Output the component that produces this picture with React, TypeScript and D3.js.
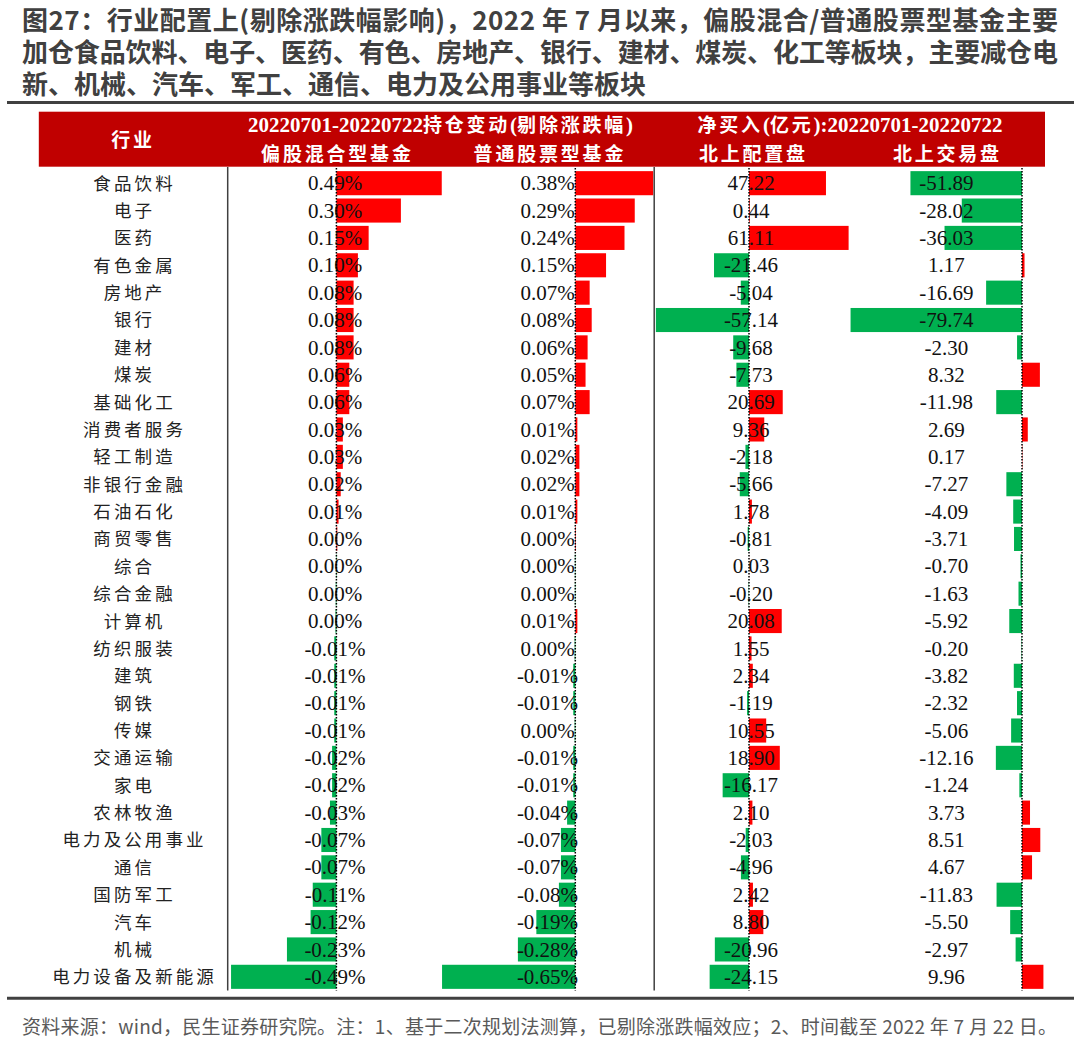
import React from 'react';
import * as d3 from 'd3';

const industries = [
  '食品饮料', '电子', '医药', '有色金属', '房地产', '银行', '建材', '煤炭', '基础化工', '消费者服务',
  '轻工制造', '非银行金融', '石油石化', '商贸零售', '综合', '综合金融', '计算机', '纺织服装', '建筑', '钢铁',
  '传媒', '交通运输', '家电', '农林牧渔', '电力及公用事业', '通信', '国防军工', '汽车', '机械', '电力设备及新能源',
];

// 偏股混合型基金 (%)
const mixedFund = [
  0.49, 0.30, 0.15, 0.10, 0.08, 0.08, 0.08, 0.06, 0.06, 0.03,
  0.03, 0.02, 0.01, 0.004, -0.002, -0.003, -0.004, -0.01, -0.01, -0.01,
  -0.01, -0.02, -0.02, -0.03, -0.07, -0.07, -0.11, -0.12, -0.23, -0.49,
];

// 普通股票型基金 (%)
const stockFund = [
  0.38, 0.29, 0.24, 0.15, 0.07, 0.08, 0.06, 0.05, 0.07, 0.01,
  0.02, 0.02, 0.01, 0.003, -0.002, -0.002, 0.01, -0.003, -0.01, -0.01,
  -0.003, -0.01, -0.01, -0.04, -0.07, -0.07, -0.08, -0.19, -0.28, -0.65,
];

// 北上配置盘 (亿元)
const northAlloc = [
  47.22, 0.44, 61.11, -21.46, -5.04, -57.14, -9.68, -7.73, 20.69, 9.36,
  -2.18, -5.66, 1.78, -0.81, 0.03, -0.20, 20.08, 1.55, 2.34, -1.19,
  10.55, 18.90, -16.17, 2.10, -2.03, -4.96, 2.42, 8.80, -20.96, -24.15,
];

// 北上交易盘 (亿元)
const northTrade = [
  -51.89, -28.02, -36.03, 1.17, -16.69, -79.74, -2.30, 8.32, -11.98, 2.69,
  0.17, -7.27, -4.09, -3.71, -0.70, -1.63, -5.92, -0.20, -3.82, -2.32,
  -5.06, -12.16, -1.24, 3.73, 8.51, 4.67, -11.83, -5.50, -2.97, 9.96,
];

const titleLines = [
  '图27：行业配置上(剔除涨跌幅影响)，2022 年 7 月以来，偏股混合/普通股票型基金主要',
  '加仓食品饮料、电子、医药、有色、房地产、银行、建材、煤炭、化工等板块，主要减仓电',
  '新、机械、汽车、军工、通信、电力及公用事业等板块',
];

const footerText = '资料来源：wind，民生证券研究院。注：1、基于二次规划法测算，已剔除涨跌幅效应；2、时间截至 2022 年 7 月 22 日。';

const subHeaders = ['偏股混合型基金', '普通股票型基金', '北上配置盘', '北上交易盘'];

const RED = '#FF0000';
const GREEN = '#00B050';
const HEADER_RED = '#C00000';
const SERIF = '"Liberation Serif", "Times New Roman", serif';
const CJK = '"Noto Sans CJK SC", sans-serif';

const fmtPct = (v: number) => (Math.abs(v) < 0.005 ? 0 : v).toFixed(2) + '%';
const fmtNum = (v: number) => v.toFixed(2);

export default function App() {
  const W = 1080;
  const H = 1055;

  const y = d3
    .scaleBand<string>()
    .domain(industries)
    .range([169.5, 990.5])
    .paddingInner(0.12)
    .paddingOuter(0.06);

  const cols = [
    { values: mixedFund, x: d3.scaleLinear().domain([-0.5, 0.5]).range([336.4 - 107.5, 336.4 + 107.5]), tx: 335, fmt: fmtPct, sub: 336 },
    { values: stockFund, x: d3.scaleLinear().domain([-0.5, 0.5]).range([575.3 - 102.5, 575.3 + 102.5]), tx: 547.5, fmt: fmtPct, sub: 548.5 },
    { values: northAlloc, x: d3.scaleLinear().domain([-50, 50]).range([749 - 81.5, 749 + 81.5]), tx: 751, fmt: fmtNum, sub: 752 },
    { values: northTrade, x: d3.scaleLinear().domain([-50, 50]).range([1022 - 107.5, 1022 + 107.5]), tx: 946.4, fmt: fmtNum, sub: 946 },
  ];

  const rowTop = 167;
  const rowBottom = 990.5;
  const labelSpacing = 3.1;
  const hdrSpacing = 2.8;
  const titleLengths = [1036, 1036, undefined];

  return (
    <svg
      width={W}
      height={H}
      viewBox={`0 0 ${W} ${H}`}
      style={{ position: 'absolute', left: 0, top: 0, background: '#fff' }}
    >
      <rect x={0} y={0} width={W} height={H} fill="#fff" />

      {/* Title */}
      {titleLines.map((t, i) => (
        <text
          key={i}
          x={22}
          y={20.7 + i * 31.9}
          dy="0.37em"
          fontFamily={CJK}
          fontWeight="bold"
          fontSize={26}
          fill="#404040"
          textLength={titleLengths[i]}
          lengthAdjust={titleLengths[i] ? 'spacing' : undefined}
        >
          {t}
        </text>
      ))}
      <line x1={7} x2={1074} y1={102.5} y2={102.5} stroke="#404040" strokeWidth={3} />

      {/* Header */}
      <rect x={38.8} y={111.7} width={1045 - 38.8} height={55} fill={HEADER_RED} />
      <text x={133} y={140} dy="0.37em" textAnchor="middle" fill="#fff" fontWeight="bold" fontFamily={CJK} fontSize={19} letterSpacing={hdrSpacing}>
        行业
      </text>
      <text x={440.5} y={126.7} dy="0.36em" textAnchor="middle" fill="#fff" fontWeight="bold">
        <tspan fontFamily={SERIF} fontSize={21}>20220701-20220722</tspan>
        <tspan fontFamily={CJK} fontSize={19} letterSpacing={hdrSpacing}>持仓变动</tspan>
        <tspan fontFamily={SERIF} fontSize={21}>(</tspan>
        <tspan fontFamily={CJK} fontSize={19} letterSpacing={hdrSpacing}>剔除涨跌幅</tspan>
        <tspan fontFamily={SERIF} fontSize={21}>)</tspan>
      </text>
      <text x={850} y={126.7} dy="0.36em" textAnchor="middle" fill="#fff" fontWeight="bold">
        <tspan fontFamily={CJK} fontSize={19} letterSpacing={hdrSpacing}>净买入</tspan>
        <tspan fontFamily={SERIF} fontSize={21}>(</tspan>
        <tspan fontFamily={CJK} fontSize={19} letterSpacing={hdrSpacing}>亿元</tspan>
        <tspan fontFamily={SERIF} fontSize={21}>):20220701-20220722</tspan>
      </text>
      {cols.map((c, i) => (
        <text
          key={i}
          x={c.sub + hdrSpacing / 2}
          y={154}
          dy="0.37em"
          textAnchor="middle"
          fill="#fff"
          fontWeight="bold"
          fontFamily={CJK}
          fontSize={19}
          letterSpacing={hdrSpacing}
        >
          {subHeaders[i]}
        </text>
      ))}

      {/* Row labels */}
      {industries.map((name) => (
        <text
          key={name}
          x={133 + labelSpacing / 2}
          y={(y(name) as number) + y.bandwidth() / 2}
          dy="0.37em"
          textAnchor="middle"
          fontFamily={CJK}
          fontSize={17.5}
          letterSpacing={labelSpacing}
          fill="#222"
        >
          {name}
        </text>
      ))}

      {/* Bars */}
      {cols.map((c, ci) => (
        <g key={'bars' + ci}>
          {c.values.map((v, i) => {
            const x0 = c.x(0);
            const x1 = c.x(v);
            return (
              <rect
                key={i}
                x={Math.min(x0, x1)}
                y={y(industries[i]) as number}
                width={Math.abs(x1 - x0)}
                height={y.bandwidth()}
                fill={v >= 0 ? RED : GREEN}
              />
            );
          })}
        </g>
      ))}

      {/* Values */}
      {cols.map((c, ci) => (
        <g key={'vals' + ci}>
          {c.values.map((v, i) => (
            <text
              key={i}
              x={c.tx}
              y={(y(industries[i]) as number) + y.bandwidth() / 2}
              dy="0.34em"
              textAnchor="middle"
              fontFamily={SERIF}
              fontSize={21}
              fill="#111"
            >
              {c.fmt(v)}
            </text>
          ))}
        </g>
      ))}

      {/* Zero lines */}
      {cols.map((c, ci) => (
        <line
          key={'zero' + ci}
          x1={c.x(0)}
          x2={c.x(0)}
          y1={rowTop + 1}
          y2={rowBottom}
          stroke="#000"
          strokeWidth={1.5}
          strokeDasharray="1.5,1.5"
        />
      ))}

      {/* Solid separators */}
      <line x1={227.7} x2={227.7} y1={rowTop} y2={rowBottom} stroke="#404040" strokeWidth={1.5} />
      <line x1={654.2} x2={654.2} y1={rowTop} y2={rowBottom} stroke="#404040" strokeWidth={1.5} />

      {/* Bottom rule & footer */}
      <line x1={7} x2={1074} y1={998.3} y2={998.3} stroke="#404040" strokeWidth={3} />
      <text x={22} y={1027} dy="0.37em" fontFamily={CJK} fontSize={19} fill="#595959" textLength={1035} lengthAdjust="spacing">
        {footerText}
      </text>
    </svg>
  );
}
